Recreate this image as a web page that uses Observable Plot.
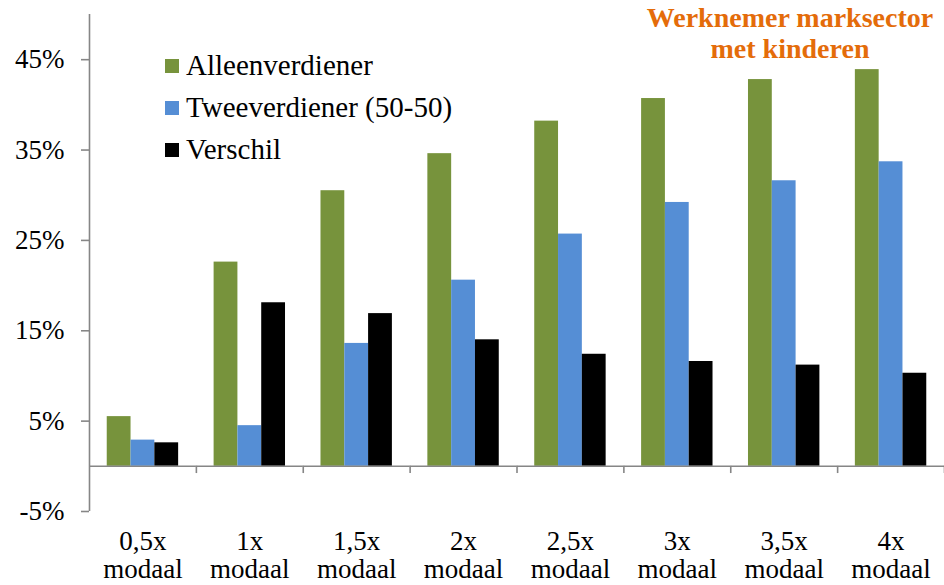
<!DOCTYPE html>
<html>
<head>
<meta charset="utf-8">
<script src="https://cdn.jsdelivr.net/npm/d3@7"></script>
<script src="https://cdn.jsdelivr.net/npm/@observablehq/plot@0.6"></script>
<style>
  html, body { margin: 0; padding: 0; background: #fff; }
  #wrap { position: relative; width: 944px; height: 585px; font-family: "Liberation Serif", "Times New Roman", Times, serif; }
  #chart svg, #chart svg text { font-family: "Liberation Serif", "Times New Roman", Times, serif !important; }
  #title { position: absolute; left: 630px; top: 2px; width: 320px; text-align: center;
           font-weight: bold; font-size: 28px; line-height: 31px; color: #E46C0A; }
  #legend { position: absolute; left: 165px; top: 45px; font-size: 29px; color: #000; }
  .row { display: flex; align-items: center; height: 42px; }
  .sw { width: 14px; height: 14px; margin-right: 7px; flex: none; }
  .lbl { position: relative; top: -1px; white-space: nowrap; }
</style>
</head>
<body>
<div id="wrap">
  <div id="chart"></div>
  <div id="title"></div>
  <div id="legend"></div>
</div>
<script>
// ---- data ----
const categories = ["0,5x\nmodaal", "1x\nmodaal", "1,5x\nmodaal", "2x\nmodaal", "2,5x\nmodaal", "3x\nmodaal", "3,5x\nmodaal", "4x\nmodaal"];
const series = ["Alleenverdiener", "Tweeverdiener (50-50)", "Verschil"];
const alleenverdiener = [5.5, 22.6, 30.5, 34.6, 38.2, 40.7, 42.8, 43.9];
const tweeverdiener   = [2.9, 4.5, 13.6, 20.6, 25.7, 29.2, 31.6, 33.7];
const verschil        = [2.6, 18.1, 16.9, 14.0, 12.4, 11.6, 11.2, 10.3];
const colors = ["#77933C", "#558ED5", "#000000"];
const yTicks = [-5, 5, 15, 25, 35, 45];
const titleLines = ["Werknemer marksector", "met kinderen"];

const values = [alleenverdiener, tweeverdiener, verschil];
const rows = categories.flatMap((c, i) => series.map((s, j) => ({cat: c, series: s, value: values[j][i]})));

// ---- layout ----
const W = 944, H = 585, ML = 89, MR = 0, MT = 14, MB = 74;
const po = 0.745;
const facetW = (W - ML - MR) / categories.length;
const bw = facetW / (series.length + 2 * po);
const edge = (po + 0.5) * bw;
const axisColor = "#868686";
const FONT = "Liberation Serif, Times New Roman, Times, serif";

const chart = Plot.plot({
  width: W, height: H,
  marginLeft: ML, marginRight: MR, marginTop: MT, marginBottom: MB,
  style: {fontFamily: FONT, fontSize: "27px", color: "#000", background: "#fff"},
  fx: {domain: categories, padding: 0, round: false},
  x: {domain: series, paddingInner: 0, paddingOuter: po, round: false, axis: null},
  y: {domain: [-5, 50]},
  color: {domain: series, range: colors},
  marks: [
    Plot.barY(rows, {fx: "cat", x: "series", y: "value", fill: "series"}),
    Plot.ruleY([0], {stroke: axisColor, strokeWidth: 1.6}),
    // category boundary ticks below the zero line
    Plot.ruleX(categories, {fx: d => d, x: () => series[2], y1: 0, y2: -0.8, dx: edge, stroke: axisColor, strokeWidth: 1.6}),
    // y axis line (first facet only)
    Plot.ruleX([categories[0]], {fx: d => d, x: () => series[0], y1: -5, y2: 50, dx: -edge, stroke: axisColor, strokeWidth: 1.6}),
    Plot.axisY({ticks: yTicks, tickFormat: d => d + "%", tickSize: 8, tickPadding: 17,
                stroke: axisColor, strokeWidth: 1.6, fill: "#000", label: null, fontSize: 27, fontFamily: FONT}),
    Plot.axisFx({anchor: "bottom", tickSize: 0, tickPadding: 19, label: null, fontSize: 27, lineHeight: 1.02, fill: "#000", fontFamily: FONT})
  ]
});
document.getElementById("chart").appendChild(chart);

// title
const t = document.getElementById("title");
titleLines.forEach(l => { const d = document.createElement("div"); d.textContent = l; t.appendChild(d); });

// legend
const lg = document.getElementById("legend");
series.forEach((s, i) => {
  const r = document.createElement("div"); r.className = "row";
  const sw = document.createElement("div"); sw.className = "sw"; sw.style.background = colors[i];
  const lb = document.createElement("span"); lb.className = "lbl"; lb.textContent = s;
  r.appendChild(sw); r.appendChild(lb); lg.appendChild(r);
});
</script>
</body>
</html>
